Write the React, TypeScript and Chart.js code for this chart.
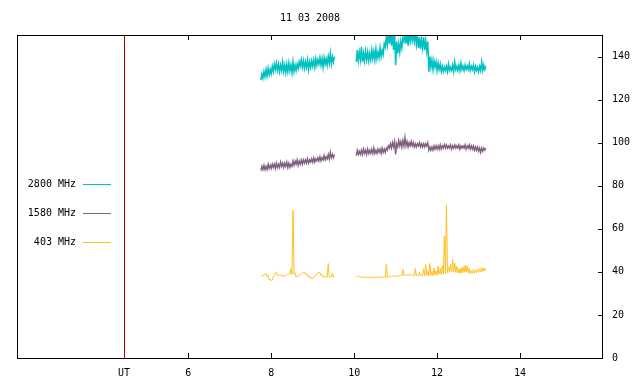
import React, { useEffect, useRef } from "react";
import { Chart, registerables } from "chart.js";

Chart.register(...registerables);

const TITLE = "11 03 2008";
const X_TICK_VALUES = [4.45, 6, 8, 10, 12, 14];
const X_TICK_LABELS = ["UT", "6", "8", "10", "12", "14"];
const UT_MARK = 4.45;
const SERIES_NAMES = ["2800 MHz", "1580 MHz", "403 MHz"];
const SERIES_COLORS = ["#00c0c0", "#806080", "#ffc020"];
const SERIES_WIDTHS = [1.5, 1.4, 1];

// sample times (hours UT), first and second observing block
const T1 = [7.75, 7.8, 7.85, 7.9, 7.95, 8.0, 8.05, 8.1, 8.15, 8.2, 8.25, 8.3, 8.35, 8.4, 8.45, 8.5, 8.55, 8.6, 8.65, 8.7, 8.75, 8.8, 8.85, 8.9, 8.95, 9.0, 9.05, 9.1, 9.15, 9.2, 9.25, 9.3, 9.35, 9.4, 9.45, 9.5];
const T2 = [10.05, 10.1, 10.15, 10.2, 10.25, 10.3, 10.35, 10.4, 10.45, 10.5, 10.55, 10.6, 10.65, 10.7, 10.75, 10.8, 10.85, 10.9, 10.95, 11.0, 11.05, 11.1, 11.15, 11.2, 11.25, 11.3, 11.35, 11.4, 11.45, 11.5, 11.55, 11.6, 11.65, 11.7, 11.75, 11.8, 11.85, 11.9, 11.95, 12.0, 12.05, 12.1, 12.15, 12.2, 12.25, 12.3, 12.35, 12.4, 12.45, 12.5, 12.55, 12.6, 12.65, 12.7, 12.75, 12.8, 12.85, 12.9, 12.95, 13.0, 13.05, 13.1, 13.15];

// 2800 MHz: low / high of the noisy band
const F2800_LO1 = [129, 130, 130.5, 131, 131.5, 132, 133, 134, 133.5, 133, 133.5, 133, 132.5, 133, 133.5, 132.5, 133, 133.5, 134.5, 135.5, 135, 134.5, 135, 134, 135, 135.5, 135, 136, 136.5, 136, 135, 136.5, 136, 137, 136.5, 137.5];
const F2800_HI1 = [132, 133, 134, 134.5, 134, 135.5, 136.5, 137, 136.5, 136, 137.5, 136, 136.5, 137, 136, 137.5, 136, 136.5, 137.5, 138.5, 138, 137.5, 138.5, 137.5, 138, 138.5, 139, 138.5, 139.5, 139, 139.5, 139, 140, 141.5, 140, 140];
const F2800_LO2 = [137.5, 138, 138.5, 137.5, 138, 138.5, 138, 138.5, 139, 138.5, 139, 139.5, 140, 141, 144.5, 145.5, 146, 145, 143, 136, 141.5, 142, 144, 147, 146, 145, 147, 147.5, 147, 145.5, 144, 143.5, 144, 143, 142.5, 133, 135, 134, 135, 133.5, 134, 133, 133, 133.5, 133, 133.5, 133.5, 133, 134, 133.5, 133.5, 134, 133.5, 134, 134, 133.5, 134, 133, 133.5, 133, 133.5, 133.5, 134];
const F2800_HI2 = [143, 142, 144.5, 141.5, 142.5, 142, 141.5, 143, 142.5, 143.5, 142, 144, 143, 146, 149, 151, 151, 151, 151, 147, 146, 147, 148.5, 151, 151, 151, 151, 151, 151, 149.5, 149, 148, 149, 147.5, 147, 140, 138.5, 138, 137.5, 137, 136.5, 135.5, 135, 135.5, 136.5, 135, 136, 137.5, 135.5, 136, 137, 135.5, 136, 135.5, 136.5, 135.5, 136, 135.5, 135, 135.5, 137.5, 136, 135.5];

// 1580 MHz
const F1580_LO1 = [87, 87.5, 87.5, 87.5, 88, 88, 88.5, 88, 88.5, 88.5, 89, 88.5, 89, 88.5, 88.5, 89, 89.5, 90, 89.5, 90, 90, 90.5, 90.5, 90.5, 91, 91, 91, 91.5, 91.5, 91.5, 92, 92, 92.5, 92.5, 93, 93];
const F1580_HI1 = [89, 89.5, 89, 90, 89.5, 90, 90, 90.5, 90, 91, 90.5, 90.5, 91, 90.5, 90, 91.5, 91.5, 92, 91.5, 92, 92, 92, 92.5, 92, 92.5, 93, 92.5, 93, 93.5, 93, 94, 93.5, 94.5, 95.5, 94.5, 94.5];
const F1580_LO2 = [94, 94.5, 94.5, 94.5, 95, 94.5, 95, 95, 95, 95, 95, 95.5, 95, 95.5, 95.5, 96.5, 97.5, 97.5, 98, 94.5, 98, 98.5, 98, 98.5, 98.5, 98, 98.5, 98.5, 98, 98, 98.5, 98, 98, 98, 98.5, 96.5, 96.5, 96.5, 97, 97, 97, 97, 97.5, 97.5, 97.5, 97.5, 97, 97.5, 97.5, 97.5, 97, 97.5, 97.5, 97, 97.5, 97, 97, 96.5, 96.5, 96, 95.5, 96, 96.5];
const F1580_HI2 = [96.5, 96, 96.5, 97, 96.5, 97, 96.5, 97, 97.5, 96.5, 97, 97, 97.5, 97, 97.5, 98.5, 99.5, 100, 100.5, 99.5, 101, 100.5, 101, 102.5, 100.5, 100, 100.5, 100, 99.5, 99.5, 100, 99.5, 99.5, 99.5, 100, 98, 98, 98.5, 98.5, 98.5, 99, 98.5, 99, 99, 98.5, 99, 98.5, 99, 98.5, 99, 98.5, 98.5, 99, 98.5, 99, 98.5, 98.5, 98, 98, 97.5, 97.5, 97.5, 97.5];

// 403 MHz
const F403_LO1 = [37.8, 38.3, 38.8, 37.8, 36.3, 35.9, 37.8, 39.5, 38.3, 38.3, 38.2, 37.7, 38.3, 38.8, 39, 38.8, 39, 37.6, 37.8, 38.7, 39.3, 39.5, 38.5, 37.6, 36.8, 37, 38.1, 39.2, 39.6, 38.3, 37.6, 37.6, 37.6, 37.6, 37.6, 37.6];
const F403_HI1 = [38.2, 38.7, 39.2, 38.5, 36.6, 36.2, 38.5, 39.8, 38.6, 38.5, 38.5, 38.2, 38.6, 39.2, 41.5, 68.6, 39.5, 38, 38.3, 39, 39.8, 39.8, 38.8, 38, 37.1, 37.3, 38.4, 39.5, 39.8, 38.6, 37.9, 37.8, 43.9, 37.8, 39.4, 37.8];
const F403_LO2 = [37.9, 37.9, 37.6, 37.2, 37.2, 37.2, 37.2, 37.2, 37.2, 37.2, 37.4, 37.4, 37.3, 37.5, 37.4, 37.4, 37.6, 37.8, 37.7, 37.8, 38, 38.1, 38.2, 38.4, 38.4, 38.3, 38.5, 38.3, 38.2, 38.2, 38.2, 38.3, 38.2, 38, 38.3, 38.1, 38.4, 38.2, 38.6, 38.4, 39, 38.8, 39, 38.9, 39.5, 39.8, 40.2, 40, 39.8, 39.4, 39.2, 39.5, 39.8, 40, 39.5, 39.2, 39.2, 39.4, 39.6, 39.8, 40, 40.2, 40.5];
const F403_HI2 = [38.1, 38.1, 37.9, 37.5, 37.9, 37.5, 37.9, 37.5, 37.6, 37.5, 37.7, 37.9, 37.6, 37.8, 43.4, 37.7, 37.9, 38.2, 38, 38.1, 38.3, 38.4, 41.1, 38.7, 38.7, 38.6, 38.8, 38.6, 41.5, 38.5, 39.8, 38.6, 41.5, 43.4, 40.5, 43.9, 40.2, 41.8, 40.5, 42.6, 41.5, 42.8, 56.6, 70.9, 42.4, 43.4, 45.7, 44, 42.6, 41.5, 41.8, 42.4, 43, 42.8, 41.6, 40.6, 41.2, 40.8, 41.2, 41.5, 42, 41.8, 41.6];

type Pt = { x: number; y: number | null };

function band(t: number[], lo: number[], hi: number[]): Pt[] {
  const out: Pt[] = [];
  for (let i = 0; i < t.length; i++) {
    out.push({ x: t[i], y: lo[i] });
    out.push({ x: t[i] + 0.025, y: hi[i] });
  }
  return out;
}

function series(lo1: number[], hi1: number[], lo2: number[], hi2: number[]): Pt[] {
  return [...band(T1, lo1, hi1), { x: 9.78, y: null }, ...band(T2, lo2, hi2)];
}

const FONT = "'DejaVu Sans Mono', monospace";

const framePlugin = {
  id: "frame",
  afterDraw(chart: any) {
    const ctx = chart.ctx as CanvasRenderingContext2D;
    const { left, right, top, bottom } = chart.chartArea;
    const xs = chart.scales.x;
    const ys = chart.scales.y;
    ctx.save();
    // UT marker
    const ux = Math.round(xs.getPixelForValue(UT_MARK)) + 0.5;
    ctx.strokeStyle = "#a00000";
    ctx.lineWidth = 1;
    ctx.beginPath();
    ctx.moveTo(ux, top);
    ctx.lineTo(ux, bottom);
    ctx.stroke();
    // border
    ctx.strokeStyle = "#000";
    ctx.strokeRect(left + 0.5, top + 0.5, right - left - 1, bottom - top);
    // x ticks (inward, mirrored)
    ctx.beginPath();
    X_TICK_VALUES.forEach((v) => {
      if (v === UT_MARK) return;
      const px = Math.round(xs.getPixelForValue(v)) + 0.5;
      ctx.moveTo(px, bottom);
      ctx.lineTo(px, bottom - 5);
      ctx.moveTo(px, top);
      ctx.lineTo(px, top + 5);
    });
    // y ticks on right
    for (let v = 20; v < 150; v += 20) {
      const py = Math.round(ys.getPixelForValue(v)) + 0.5;
      ctx.moveTo(right - 5, py);
      ctx.lineTo(right, py);
    }
    ctx.stroke();
    // title
    ctx.fillStyle = "#000";
    ctx.font = "10px " + FONT;
    ctx.textAlign = "center";
    ctx.textBaseline = "middle";
    ctx.fillText(TITLE, (left + right) / 2, 18);
    // legend
    const ly = [184, 213, 242];
    SERIES_NAMES.forEach((name, i) => {
      ctx.textAlign = "right";
      ctx.fillStyle = "#000";
      ctx.fillText(name, 76, ly[i]);
      ctx.strokeStyle = SERIES_COLORS[i];
      ctx.beginPath();
      ctx.moveTo(83, ly[i] + 0.5);
      ctx.lineTo(111, ly[i] + 0.5);
      ctx.stroke();
    });
    ctx.restore();
  },
};

export default function App() {
  const ref = useRef<HTMLCanvasElement | null>(null);
  useEffect(() => {
    if (!ref.current) return;
    const data = [
      series(F2800_LO1, F2800_HI1, F2800_LO2, F2800_HI2),
      series(F1580_LO1, F1580_HI1, F1580_LO2, F1580_HI2),
      series(F403_LO1, F403_HI1, F403_LO2, F403_HI2),
    ];
    const chart = new Chart(ref.current, {
      type: "line",
      data: {
        datasets: data.map((d, i) => ({
          label: SERIES_NAMES[i],
          data: d as any,
          borderColor: SERIES_COLORS[i],
          borderWidth: SERIES_WIDTHS[i],
          pointRadius: 0,
          tension: 0,
          spanGaps: false,
          fill: false,
        })),
      },
      options: {
        animation: false,
        responsive: false,
        devicePixelRatio: 1,
        layout: { padding: { left: 17, top: 35, right: 0, bottom: 0 } },
        plugins: { legend: { display: false }, tooltip: { enabled: false }, title: { display: false } },
        scales: {
          x: {
            type: "linear",
            position: "bottom",
            min: 1.87,
            max: 16,
            grid: { display: false },
            border: { display: false },
            afterBuildTicks: (s: any) => {
              s.ticks = X_TICK_VALUES.map((v) => ({ value: v }));
            },
            afterFit: (s: any) => {
              s.height = 26;
            },
            ticks: {
              autoSkip: false,
              maxRotation: 0,
              padding: 1,
              color: "#000",
              font: { family: FONT, size: 10 },
              callback: (v: any) => {
                const i = X_TICK_VALUES.indexOf(Number(v));
                return i >= 0 ? X_TICK_LABELS[i] : "";
              },
            },
          },
          y: {
            type: "linear",
            position: "right",
            min: 0,
            max: 150,
            grid: { display: false },
            border: { display: false },
            afterBuildTicks: (s: any) => {
              s.ticks = [0, 20, 40, 60, 80, 100, 120, 140].map((v) => ({ value: v }));
            },
            afterFit: (s: any) => {
              s.width = 37;
            },
            ticks: {
              padding: 1,
              color: "#000",
              font: { family: FONT, size: 10 },
            },
          },
        },
      },
      plugins: [framePlugin],
    });
    return () => chart.destroy();
  }, []);
  return (
    <div style={{ position: "fixed", left: 0, top: 0, width: 640, height: 384, background: "#fff" }}>
      <canvas ref={ref} width={640} height={384} />
    </div>
  );
}
